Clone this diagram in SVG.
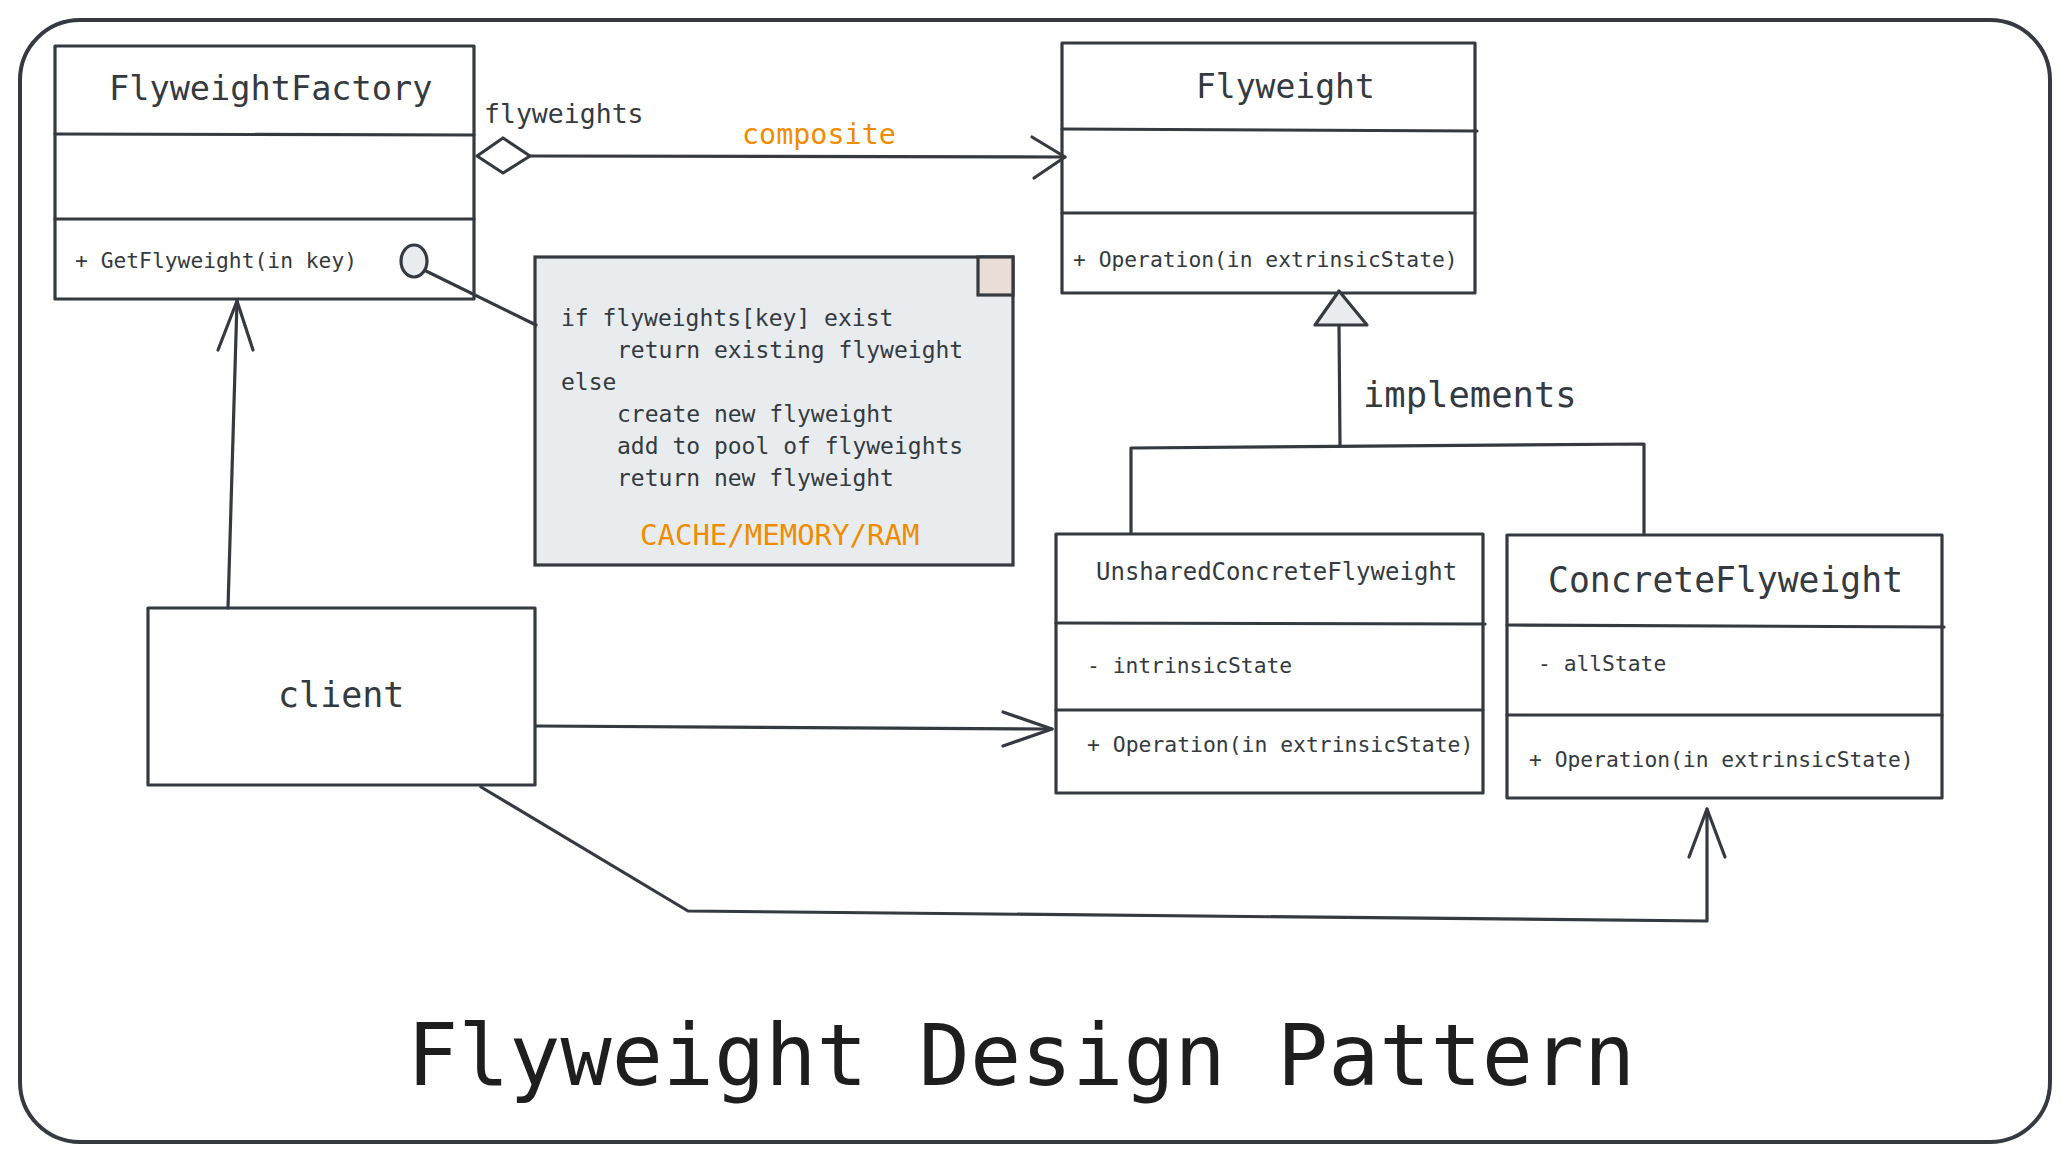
<svg xmlns="http://www.w3.org/2000/svg" width="2070" height="1163" viewBox="0 0 2070 1163">
<style>
.box{fill:#ffffff;stroke:#343a40;stroke-width:3.2;stroke-linejoin:round}
.ln{fill:none;stroke:#343a40;stroke-width:3.2;stroke-linecap:round;stroke-linejoin:round}
.t{font-family:"DejaVu Sans Mono","Liberation Mono",monospace;fill:#343a40}
.code{font-family:"DejaVu Sans Mono","Liberation Mono",monospace;fill:#343a40;font-size:23px}
.org{fill:#f08c00}
</style>
<rect x="0" y="0" width="2070" height="1163" fill="#ffffff"/>
<rect x="20" y="20" width="2030" height="1122" rx="60" ry="60" fill="none" stroke="#343a40" stroke-width="4"/>

<g id="FlyweightFactory">
  <rect class="box" x="55" y="46" width="419" height="253"/>
  <path class="ln" d="M55,134 L474,135 M55,219 L474,219"/>
  <text class="t" x="109" y="100" font-size="33.6">FlyweightFactory</text>
  <text class="t" x="75" y="268" font-size="21.3">+ GetFlyweight(in key)</text>
</g>

<g id="Flyweight">
  <rect class="box" x="1062" y="43" width="413" height="250"/>
  <path class="ln" d="M1062,129 L1477,131 M1062,213 L1475,213"/>
  <text class="t" x="1196" y="98" font-size="33">Flyweight</text>
  <text class="t" x="1073" y="267" font-size="21.3">+ Operation(in extrinsicState)</text>
</g>

<g id="Note">
  <rect x="535" y="257" width="478" height="308" fill="#e9ecef" stroke="#343a40" stroke-width="3.2"/>
  <rect x="978" y="257" width="35" height="38" fill="#eaddd7" stroke="#343a40" stroke-width="3.2"/>
  <text class="code" x="561" y="326">if flyweights[key] exist</text>
  <text class="code" x="617" y="358">return existing flyweight</text>
  <text class="code" x="561" y="390">else</text>
  <text class="code" x="617" y="422">create new flyweight</text>
  <text class="code" x="617" y="454">add to pool of flyweights</text>
  <text class="code" x="617" y="486">return new flyweight</text>
  <text class="t org" x="640" y="545" font-size="29">CACHE/MEMORY/RAM</text>
</g>

<g id="UnsharedConcreteFlyweight">
  <rect class="box" x="1056" y="534" width="427" height="259"/>
  <path class="ln" d="M1056,623 L1485,624 M1056,710 L1483,710"/>
  <text class="t" x="1096" y="580" font-size="24">UnsharedConcreteFlyweight</text>
  <text class="t" x="1087" y="673" font-size="21.3">- intrinsicState</text>
  <text class="t" x="1087" y="752" font-size="21.4">+ Operation(in extrinsicState)</text>
</g>

<g id="ConcreteFlyweight">
  <rect class="box" x="1507" y="535" width="435" height="263"/>
  <path class="ln" d="M1507,625 L1944,627 M1507,715 L1942,715"/>
  <text class="t" x="1548" y="592" font-size="34.7">ConcreteFlyweight</text>
  <text class="t" x="1538" y="671" font-size="21.3">- allState</text>
  <text class="t" x="1529" y="767" font-size="21.3">+ Operation(in extrinsicState)</text>
</g>

<g id="client">
  <rect class="box" x="148" y="608" width="387" height="177"/>
  <text class="t" x="278" y="707" font-size="35">client</text>
</g>

<g id="connectors">
  <path class="ln" d="M530,156 L1065,157"/>
  <path class="ln" d="M1032,137 L1065,157 L1034,178"/>
  <path d="M477,156 L503,138 L530,156 L503,173 Z" fill="#ffffff" stroke="#343a40" stroke-width="3.2" stroke-linejoin="round"/>
  <path class="ln" d="M426,271 L536,325"/>
  <ellipse cx="414" cy="261" rx="13" ry="16" fill="#e9ecef" stroke="#343a40" stroke-width="3.2"/>
  <path class="ln" d="M1339,325 L1340,445"/>
  <path class="ln" d="M1131,533 L1131,448 L1644,444 L1644,533"/>
  <path d="M1339,291 L1367,325 L1315,325 Z" fill="#e9ecef" stroke="#343a40" stroke-width="3.2" stroke-linejoin="round"/>
  <path class="ln" d="M228,608 L237,301"/>
  <path class="ln" d="M218,350 L237,301 L253,350"/>
  <path class="ln" d="M536,726 L1052,729"/>
  <path class="ln" d="M1003,712 L1052,729 L1003,746"/>
  <path class="ln" d="M481,787 L688,911 L1707,921 L1707,809"/>
  <path class="ln" d="M1689,857 L1707,809 L1725,857"/>
  <text class="t" x="484" y="123" font-size="26.5">flyweights</text>
  <text class="t org" x="742" y="144" font-size="28.4">composite</text>
  <text class="t" x="1363" y="407" font-size="35.5">implements</text>
</g>

<g id="title">
  <text x="407" y="1085" font-family="DejaVu Sans Mono, Liberation Mono, monospace" font-size="85" fill="#1e1e1e">Flyweight Design Pattern</text>
</g>
</svg>
